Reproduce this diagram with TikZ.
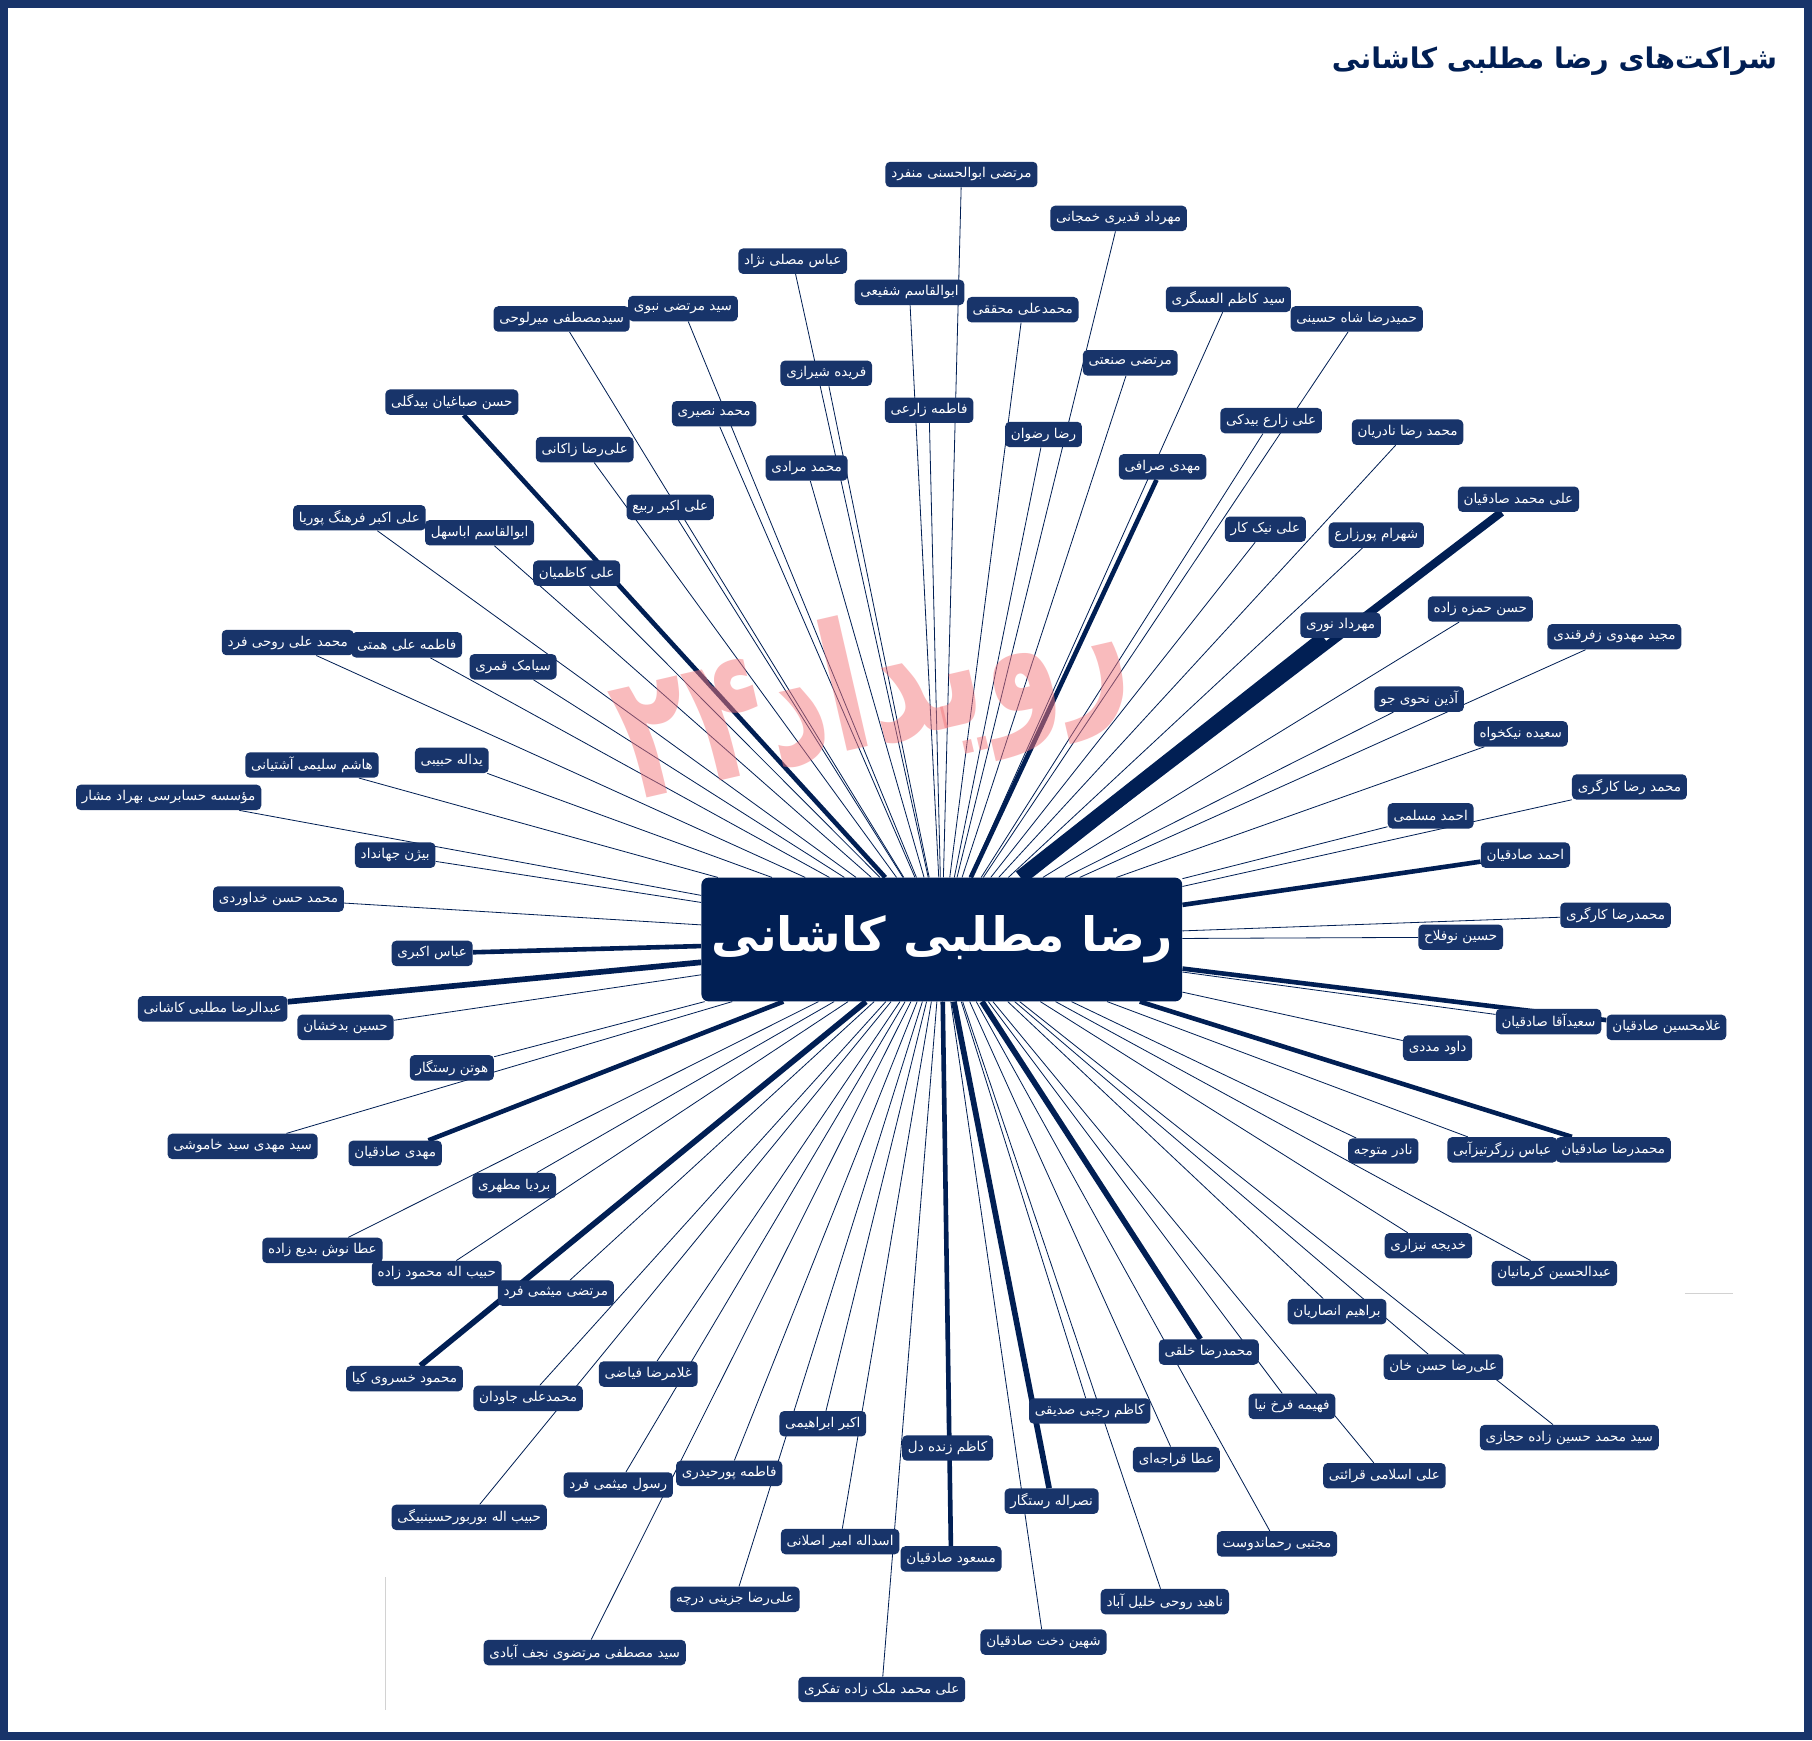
\documentclass[tikz,border=0pt]{standalone}
\usepackage{fontspec}
\newfontfamily\fa[Script=Arabic]{DejaVu Sans}
\TeXXeTstate=1
\usetikzlibrary{backgrounds}

\definecolor{framenavy}{RGB}{24,52,106}
\definecolor{boxnavy}{RGB}{24,52,106}
\definecolor{hubnavy}{RGB}{1,31,84}
\definecolor{logopink}{RGB}{245,120,125}

\newcommand{\rl}[1]{\beginR #1\endR}	% Text von rechts nach links

\tikzset{
	lbl/.style={fill=boxnavy, text=white, rounded corners=0.12cm, font=\fa\fontsize{10}{12}\selectfont,
		inner xsep=0.15cm, inner ysep=0cm, minimum height=0.66cm},
	hubbox/.style={fill=hubnavy, text=white, rounded corners=0.18cm, font=\fa\bfseries\fontsize{35}{42}\selectfont,
		inner xsep=0.1cm, minimum width=12.48cm, minimum height=3.21cm},
	tie/.style={draw=hubnavy, line width=0.6pt},
	tiefour/.style={draw=hubnavy, line width=3.4pt},
	tiefive/.style={draw=hubnavy, line width=4.2pt},
}

\begin{document}
\begin{tikzpicture}[x=0.03cm, y=-0.03cm]
	\useasboundingbox (0,0) rectangle (1568,1506);
	
	% Titel
	\node [anchor=east, inner sep=0pt, text=hubnavy, font=\fa\bfseries\fontsize{21}{26}\selectfont] (title) at (1538,53) {\rl{شراکت‌های رضا مطلبی کاشانی}};
	
	% Wasserzeichen
	\node [rotate=13, yscale=1.45, text=logopink, opacity=0.5, font=\fa\bfseries\fontsize{90}{100}\selectfont] (logo) at (755,605) {\rl{رویداد۲۴}};
	
	\node [hubbox] (hub) at (815,813) {\rl{رضا مطلبی کاشانی}};	% Mitte
	
	% oben
	\node [lbl] (monfared) at (832,151) {\rl{مرتضی ابوالحسنی منفرد}};
	\node [lbl] (khamjani) at (968,189) {\rl{مهرداد قدیری خمجانی}};
	\node [lbl] (mosallanejad) at (686,226) {\rl{عباس مصلی نژاد}};
	\node [lbl] (shafiei) at (787,253) {\rl{ابوالقاسم شفیعی}};
	\node [lbl] (mohaghegh) at (885,268) {\rl{محمدعلی محققی}};
	\node [lbl] (askari) at (1063,259) {\rl{سید کاظم العسگری}};
	\node [lbl] (shahhosseini) at (1174,276) {\rl{حمیدرضا شاه حسینی}};
	\node [lbl] (nabavi) at (591,267) {\rl{سید مرتضی نبوی}};
	\node [lbl] (mirlohi) at (486,276) {\rl{سیدمصطفی میرلوحی}};
	\node [lbl] (sanati) at (978,314) {\rl{مرتضی صنعتی}};
	\node [lbl] (shirazi) at (715,323) {\rl{فریده شیرازی}};
	\node [lbl] (sabbaghian) at (391,348) {\rl{حسن صباغیان بیدگلی}};
	\node [lbl] (nasiri) at (618,358) {\rl{محمد نصیری}};
	\node [lbl] (zarei) at (804,355) {\rl{فاطمه زارعی}};
	\node [lbl] (rezvan) at (903,376) {\rl{رضا رضوان}};
	\node [lbl] (zarebidaki) at (1100,364) {\rl{علی زارع بیدکی}};
	\node [lbl] (naderian) at (1218,374) {\rl{محمد رضا نادریان}};
	\node [lbl] (zakani) at (506,389) {\rl{علی‌رضا زاکانی}};
	\node [lbl] (sarrafi) at (1006,404) {\rl{مهدی صرافی}};
	\node [lbl] (moradi) at (698,405) {\rl{محمد مرادی}};
	\node [lbl] (rabie) at (580,439) {\rl{علی اکبر ربیع}};
	\node [lbl] (alimsadeghian) at (1314,432) {\rl{علی محمد صادقیان}};
	\node [lbl] (pouria) at (311,448) {\rl{علی اکبر فرهنگ پوریا}};
	\node [lbl] (abasahl) at (415,461) {\rl{ابوالقاسم اباسهل}};
	\node [lbl] (nikkar) at (1095,458) {\rl{علی نیک کار}};
	\node [lbl] (pourzare) at (1191,463) {\rl{شهرام پورزارع}};
	\node [lbl] (kazemian) at (499,496) {\rl{علی کاظمیان}};
	\node [lbl] (hamzeh) at (1281,527) {\rl{حسن حمزه زاده}};
	\node [lbl] (nouri) at (1160,541) {\rl{مهرداد نوری}};
	
	% links und rechts
	\node [lbl] (zefreghandi) at (1397,551) {\rl{مجید مهدوی زفرقندی}};
	\node [lbl] (rouhifard) at (249,556) {\rl{محمد علی روحی فرد}};
	\node [lbl] (hemmati) at (352,558) {\rl{فاطمه علی همتی}};
	\node [lbl] (ghamari) at (444,577) {\rl{سیامک قمری}};
	\node [lbl] (nahvi) at (1228,605) {\rl{آذین نحوی جو}};
	\node [lbl] (nikkhah) at (1316,635) {\rl{سعیده نیکخواه}};
	\node [lbl] (habibi) at (391,658) {\rl{یداله حبیبی}};
	\node [lbl] (ashtiani) at (270,662) {\rl{هاشم سلیمی آشتیانی}};
	\node [lbl] (moshar) at (146,690) {\rl{مؤسسه حسابرسی بهراد مشار}};
	\node [lbl] (kargari) at (1410,681) {\rl{محمد رضا کارگری}};
	\node [lbl] (moslemi) at (1238,706) {\rl{احمد مسلمی}};
	\node [lbl] (jahandad) at (342,740) {\rl{بیژن جهانداد}};
	\node [lbl] (ahmadsadeghian) at (1320,740) {\rl{احمد صادقیان}};
	\node [lbl] (khodaverdi) at (241,778) {\rl{محمد حسن خداوردی}};
	\node [lbl] (kargaritwo) at (1398,792) {\rl{محمدرضا کارگری}};
	\node [lbl] (noufallah) at (1264,811) {\rl{حسین نوفلاح}};
	\node [lbl] (akbari) at (374,825) {\rl{عباس اکبری}};
	\node [lbl] (abdolreza) at (184,873) {\rl{عبدالرضا مطلبی کاشانی}};
	\node [lbl] (gholamhossein) at (1442,889) {\rl{غلامحسین صادقیان}};
	\node [lbl] (saeidagha) at (1340,884) {\rl{سعیدآقا صادقیان}};
	\node [lbl] (badakhshan) at (299,889) {\rl{حسین بدخشان}};
	\node [lbl] (madadi) at (1244,907) {\rl{داود مددی}};
	\node [lbl] (houtan) at (391,924) {\rl{هوتن رستگار}};
	\node [lbl] (khamooshi) at (210,992) {\rl{سید مهدی سید خاموشی}};
	\node [lbl] (mahdisadeghian) at (342,998) {\rl{مهدی صادقیان}};
	\node [lbl] (motevajeh) at (1197,996) {\rl{نادر متوجه}};
	\node [lbl] (zargar) at (1300,995) {\rl{عباس زرگرتیزآبی}};
	\node [lbl] (mrsadeghian) at (1396,995) {\rl{محمدرضا صادقیان}};
	
	% unten
	\node [lbl] (motahari) at (445,1026) {\rl{بردیا مطهری}};
	\node [lbl] (nizari) at (1236,1078) {\rl{خدیجه نیزاری}};
	\node [lbl] (badizadeh) at (279,1082) {\rl{عطا نوش بدیع زاده}};
	\node [lbl] (mahmoudzadeh) at (378,1102) {\rl{حبیب اله محمود زاده}};
	\node [lbl] (kermanian) at (1345,1102) {\rl{عبدالحسین کرمانیان}};
	\node [lbl] (meysamifard) at (481,1119) {\rl{مرتضی میثمی فرد}};
	\node [lbl] (ansarian) at (1157,1135) {\rl{براهیم انصاریان}};
	\node [lbl] (khalghi) at (1046,1170) {\rl{محمدرضا خلقی}};
	\node [lbl] (hasankhan) at (1249,1183) {\rl{علی‌رضا حسن خان}};
	\node [lbl] (khosravi) at (350,1193) {\rl{محمود خسروی کیا}};
	\node [lbl] (fayazi) at (561,1189) {\rl{غلامرضا فیاضی}};
	\node [lbl] (javdan) at (457,1210) {\rl{محمدعلی جاودان}};
	\node [lbl] (farrokhnia) at (1118,1217) {\rl{فهیمه فرخ نیا}};
	\node [lbl] (sedighi) at (943,1221) {\rl{کاظم رجبی صدیقی}};
	\node [lbl] (ebrahimi) at (712,1232) {\rl{اکبر ابراهیمی}};
	\node [lbl] (hejazi) at (1358,1244) {\rl{سید محمد حسین زاده حجازی}};
	\node [lbl] (zendedel) at (820,1253) {\rl{کاظم زنده دل}};
	\node [lbl] (gharajeh) at (1018,1263) {\rl{عطا قراجه‌ای}};
	\node [lbl] (pourheydari) at (631,1275) {\rl{فاطمه پورحیدری}};
	\node [lbl] (gharaati) at (1198,1277) {\rl{علی اسلامی قرائتی}};
	\node [lbl] (rasoul) at (535,1285) {\rl{رسول میثمی فرد}};
	\node [lbl] (nasrollah) at (910,1299) {\rl{نصراله رستگار}};
	\node [lbl] (bourbour) at (406,1313) {\rl{حبیب اله بوربورحسینبیگی}};
	\node [lbl] (rahmandoust) at (1105,1336) {\rl{مجتبی رحماندوست}};
	\node [lbl] (aslani) at (727,1334) {\rl{اسداله امیر اصلانی}};
	\node [lbl] (masoud) at (823,1349) {\rl{مسعود صادقیان}};
	\node [lbl] (khalilabad) at (1008,1386) {\rl{ناهید روحی خلیل آباد}};
	\node [lbl] (jazini) at (636,1384) {\rl{علی‌رضا جزینی درچه}};
	\node [lbl] (shahindokht) at (903,1421) {\rl{شهین دخت صادقیان}};
	\node [lbl] (najafabadi) at (506,1430) {\rl{سید مصطفی مرتضوی نجف آبادی}};
	\node [lbl] (malekzadeh) at (763,1462) {\rl{علی محمد ملک زاده تفکری}};
	
	\begin{pgfonlayer}{background}
		\fill [white] (0,0) rectangle (1568,1506);
		
		% duenne Linien
		\draw [tie] (hub) -- (monfared);
		\draw [tie] (hub) -- (khamjani);
		\draw [tie] (hub) -- (mosallanejad);
		\draw [tie] (hub) -- (shafiei);
		\draw [tie] (hub) -- (mohaghegh);
		\draw [tie] (hub) -- (askari);
		\draw [tie] (hub) -- (shahhosseini);
		\draw [tie] (hub) -- (nabavi);
		\draw [tie] (hub) -- (mirlohi);
		\draw [tie] (hub) -- (sanati);
		\draw [tie] (hub) -- (shirazi);
		\draw [tie] (hub) -- (nasiri);
		\draw [tie] (hub) -- (zarei);
		\draw [tie] (hub) -- (rezvan);
		\draw [tie] (hub) -- (zarebidaki);
		\draw [tie] (hub) -- (naderian);
		\draw [tie] (hub) -- (zakani);
		\draw [tie] (hub) -- (moradi);
		\draw [tie] (hub) -- (rabie);
		\draw [tie] (hub) -- (pouria);
		\draw [tie] (hub) -- (abasahl);
		\draw [tie] (hub) -- (nikkar);
		\draw [tie] (hub) -- (pourzare);
		\draw [tie] (hub) -- (kazemian);
		\draw [tie] (hub) -- (hamzeh);
		\draw [tie] (hub) -- (zefreghandi);
		\draw [tie] (hub) -- (rouhifard);
		\draw [tie] (hub) -- (hemmati);
		\draw [tie] (hub) -- (ghamari);
		\draw [tie] (hub) -- (nahvi);
		\draw [tie] (hub) -- (nikkhah);
		\draw [tie] (hub) -- (habibi);
		\draw [tie] (hub) -- (ashtiani);
		\draw [tie] (hub) -- (moshar);
		\draw [tie] (hub) -- (kargari);
		\draw [tie] (hub) -- (moslemi);
		\draw [tie] (hub) -- (jahandad);
		\draw [tie] (hub) -- (khodaverdi);
		\draw [tie] (hub) -- (kargaritwo);
		\draw [tie] (hub) -- (noufallah);
		\draw [tie] (hub) -- (saeidagha);
		\draw [tie] (hub) -- (badakhshan);
		\draw [tie] (hub) -- (madadi);
		\draw [tie] (hub) -- (houtan);
		\draw [tie] (hub) -- (khamooshi);
		\draw [tie] (hub) -- (motevajeh);
		\draw [tie] (hub) -- (zargar);
		\draw [tie] (hub) -- (motahari);
		\draw [tie] (hub) -- (nizari);
		\draw [tie] (hub) -- (badizadeh);
		\draw [tie] (hub) -- (mahmoudzadeh);
		\draw [tie] (hub) -- (kermanian);
		\draw [tie] (hub) -- (meysamifard);
		\draw [tie] (hub) -- (ansarian);
		\draw [tie] (hub) -- (hasankhan);
		\draw [tie] (hub) -- (fayazi);
		\draw [tie] (hub) -- (javdan);
		\draw [tie] (hub) -- (farrokhnia);
		\draw [tie] (hub) -- (sedighi);
		\draw [tie] (hub) -- (ebrahimi);
		\draw [tie] (hub) -- (hejazi);
		\draw [tie] (hub) -- (zendedel);
		\draw [tie] (hub) -- (gharajeh);
		\draw [tie] (hub) -- (pourheydari);
		\draw [tie] (hub) -- (gharaati);
		\draw [tie] (hub) -- (rasoul);
		\draw [tie] (hub) -- (bourbour);
		\draw [tie] (hub) -- (rahmandoust);
		\draw [tie] (hub) -- (aslani);
		\draw [tie] (hub) -- (khalilabad);
		\draw [tie] (hub) -- (jazini);
		\draw [tie] (hub) -- (shahindokht);
		\draw [tie] (hub) -- (najafabadi);
		\draw [tie] (hub) -- (malekzadeh);
		
		% dicke Linien
		\draw [tiefour] (hub) -- (sabbaghian);
		\draw [tiefour] (hub) -- (sarrafi);
		\draw [hubnavy, line width=6pt] (hub) -- (alimsadeghian);
		\draw [hubnavy, line width=11pt] (hub) -- (nouri);
		\draw [tiefour] (hub) -- (ahmadsadeghian);
		\draw [tiefour] (hub) -- (akbari);
		\draw [tiefive] (hub) -- (abdolreza);
		\draw [tiefour] (hub) -- (gholamhossein);
		\draw [tiefour] (hub) -- (mahdisadeghian);
		\draw [tiefour] (hub) -- (mrsadeghian);
		\draw [tiefive] (hub) -- (khalghi);
		\draw [tiefive] (hub) -- (khosravi);
		\draw [tiefive] (hub) -- (nasrollah);
		\draw [tiefour] (hub) -- (masoud);
		
		% graue Reste
		\draw [gray!35, line width=0.4pt] (333,1365) -- (333,1480);
		\draw [gray!35, line width=0.4pt] (1458,1119) -- (1500,1119);
	\end{pgfonlayer}
	
	% Rahmen
	\draw [framenavy, line width=0.21cm] (3.5,3.5) rectangle (1564.5,1502.5);
\end{tikzpicture}
\end{document}
